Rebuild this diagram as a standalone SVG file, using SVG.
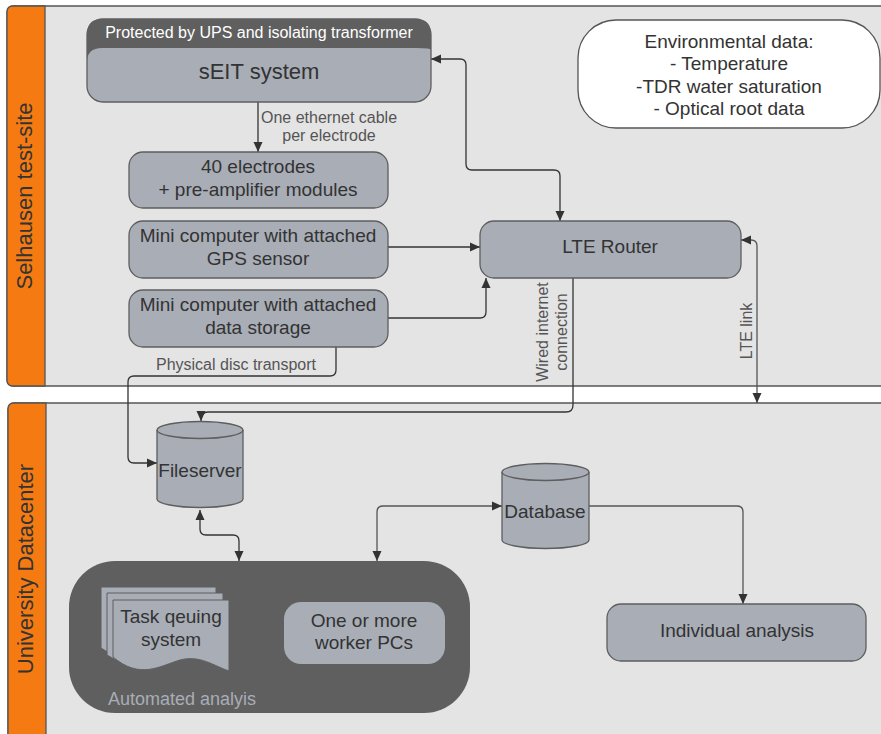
<svg xmlns="http://www.w3.org/2000/svg" width="881" height="734" viewBox="0 0 881 734">
<defs>
<marker id="ah" viewBox="0 0 10 10" refX="10" refY="5" markerWidth="10" markerHeight="10" markerUnits="userSpaceOnUse" orient="auto-start-reverse">
<path d="M0,0.5 L10,5 L0,9.5 Z" fill="#333"/>
</marker>
<style>
.lane{fill:#e4e4e4;stroke:#555;stroke-width:1.3}
.band{fill:#f57a12;stroke:#555;stroke-width:1.3}
.node{fill:#a8adb6;stroke:#5e5e5e;stroke-width:1.3}
.t{font-family:"Liberation Sans",Arial,sans-serif;fill:#333;text-anchor:middle;font-size:19px}
.lbl{font-family:"Liberation Sans",Arial,sans-serif;fill:#555;font-size:16px;text-anchor:middle}
.c{fill:none;stroke:#333;stroke-width:1.3}
.cg{fill:none;stroke:#555;stroke-width:1.3}
</style>
</defs>
<rect width="881" height="734" fill="#fff"/>

<g id="lane-selhausen">
<rect class="lane" x="7" y="6" width="900" height="380" rx="6"/>
<path class="band" d="M45,6 H13 Q7,6 7,12 V380 Q7,386 13,386 H45 Z"/>
<text class="t" style="font-size:22px" transform="translate(32,196) rotate(-90)">Selhausen test-site</text>
</g>
<g id="lane-datacenter">
<rect class="lane" x="8" y="403" width="900" height="340" rx="6"/>
<path class="band" d="M46,403 H14 Q8,403 8,409 V740 H46 Z"/>
<text class="t" style="font-size:22px" transform="translate(33,569) rotate(-90)">University Datacenter</text>
</g>

<g id="connectors">
<path class="c" d="M258,102 V152" marker-end="url(#ah)"/>
<path class="c" d="M560,221 V176 Q560,170 554,170 H472 Q466,170 466,164 V65 Q466,59 460,59 H431" marker-start="url(#ah)" marker-end="url(#ah)"/>
<path class="c" d="M388,247 H480" marker-end="url(#ah)"/>
<path class="c" d="M388,318 H480 Q486,318 486,312 V278" marker-end="url(#ah)"/>
<path class="c" d="M573,278 V405 Q573,412 566,412 H208 Q201,412 201,421" marker-end="url(#ah)"/>
<path class="cg" d="M741,240 H751 Q757,240 757,246 V403" marker-start="url(#ah)" marker-end="url(#ah)"/>
<path class="c" d="M336,347 V370 Q336,376 330,376 H134 Q128,376 128,382 V457 Q128,463 134,463 H157" marker-end="url(#ah)"/>
<path class="c" d="M200,510 V529 Q200,535 206,535 H233 Q239,535 239,541 V561" marker-start="url(#ah)" marker-end="url(#ah)"/>
<path class="cg" d="M377,561 V512 Q377,506 383,506 H502" marker-start="url(#ah)" marker-end="url(#ah)"/>
<path class="cg" d="M589,506 H737 Q743,506 743,512 V604" marker-end="url(#ah)"/>
<path class="c" d="M229,629 H283" marker-end="url(#ah)"/>
<text class="lbl"><tspan x="329" y="123">One ethernet cable</tspan><tspan x="329" y="141">per electrode</tspan></text>
<text class="lbl" x="236" y="370">Physical disc transport</text>
<text class="lbl" transform="translate(548,332) rotate(-90)">Wired internet</text>
<text class="lbl" transform="translate(567,332) rotate(-90)">connection</text>
<text class="lbl" transform="translate(752,331) rotate(-90)">LTE link</text>
</g>

<g id="seit">
<rect class="node" x="87" y="19" width="344" height="83" rx="16"/>
<path d="M87,50 V34 Q87,19 102,19 H416 Q431,19 431,34 V50 Q431,48 416,48 H102 Q87,48 87,62 Z" fill="#5f5f5f"/>
<text class="lbl" x="259" y="38" style="fill:#fff">Protected by UPS and isolating transformer</text>
<text class="t" style="font-size:22px" x="259" y="79">sEIT system</text>
</g>

<g id="env">
<rect x="578" y="20" width="302" height="108" rx="38" fill="#fff" stroke="#555" stroke-width="1.3"/>
<text class="t"><tspan x="729" y="48">Environmental data:</tspan><tspan x="729" y="70">- Temperature</tspan><tspan x="729" y="93">-TDR water saturation</tspan><tspan x="729" y="115">- Optical root data</tspan></text>
</g>

<g id="electrodes">
<rect class="node" x="129" y="152" width="259" height="56" rx="14"/>
<text class="t"><tspan x="258" y="173">40 electrodes</tspan><tspan x="258" y="196">+ pre-amplifier modules</tspan></text>
</g>

<g id="gps">
<rect class="node" x="129" y="221" width="259" height="57" rx="14"/>
<text class="t"><tspan x="258" y="242">Mini computer with attached</tspan><tspan x="258" y="265">GPS sensor</tspan></text>
</g>

<g id="storage">
<rect class="node" x="129" y="290" width="259" height="57" rx="14"/>
<text class="t"><tspan x="258" y="311">Mini computer with attached</tspan><tspan x="258" y="334">data storage</tspan></text>
</g>

<g id="router">
<rect class="node" x="480" y="221" width="261" height="57" rx="14"/>
<text class="t" x="610" y="253">LTE Router</text>
</g>

<g id="fileserver">
<path class="node" d="M157,430 V499 A43,8.5 0 0 0 243,499 V430 A43,8.5 0 0 0 157,430 Z"/>
<path fill="none" stroke="#5e5e5e" stroke-width="1.3" d="M157,430 A43,8.5 0 0 0 243,430"/>
<text class="t" x="200" y="477">Fileserver</text>
</g>

<g id="database">
<path class="node" d="M502,472 V540 A43.5,8.5 0 0 0 589,540 V472 A43.5,8.5 0 0 0 502,472 Z"/>
<path fill="none" stroke="#5e5e5e" stroke-width="1.3" d="M502,472 A43.5,8.5 0 0 0 589,472"/>
<text class="t" x="545" y="518">Database</text>
</g>

<g id="automated">
<rect x="69" y="561" width="401" height="152" rx="46" fill="#5f5f5f"/>
<text x="108" y="705" font-family="'Liberation Sans',Arial,sans-serif" font-size="18" fill="#a8adb6">Automated analyis</text>
</g>

<g id="taskqueue">
<path d="M101,587 H216 V658 C200,652 185,648 165,655 C145,662 125,664 101,648 Z" fill="#a8adb6" stroke="#5f5f5f" stroke-width="1"/>
<path d="M107,593 H223 V664 C206,658 191,654 171,661 C151,668 131,670 107,655 Z" fill="#a8adb6" stroke="#5f5f5f" stroke-width="1"/>
<path d="M113,600 H229 V671 C212,665 200,655 180,660 C160,666 140,680 113,657 Z" fill="#a8adb6" stroke="#5f5f5f" stroke-width="1"/>
<text class="t"><tspan x="171" y="623">Task qeuing</tspan><tspan x="171" y="646">system</tspan></text>
</g>

<g id="workers">
<rect x="284" y="602" width="161" height="62" rx="17" fill="#a8adb6"/>
<text class="t"><tspan x="364" y="627">One or more</tspan><tspan x="364" y="649">worker PCs</tspan></text>
</g>

<g id="individual">
<rect class="node" x="607" y="604" width="259" height="57" rx="14"/>
<text class="t" x="737" y="637">Individual analysis</text>
</g>
</svg>
